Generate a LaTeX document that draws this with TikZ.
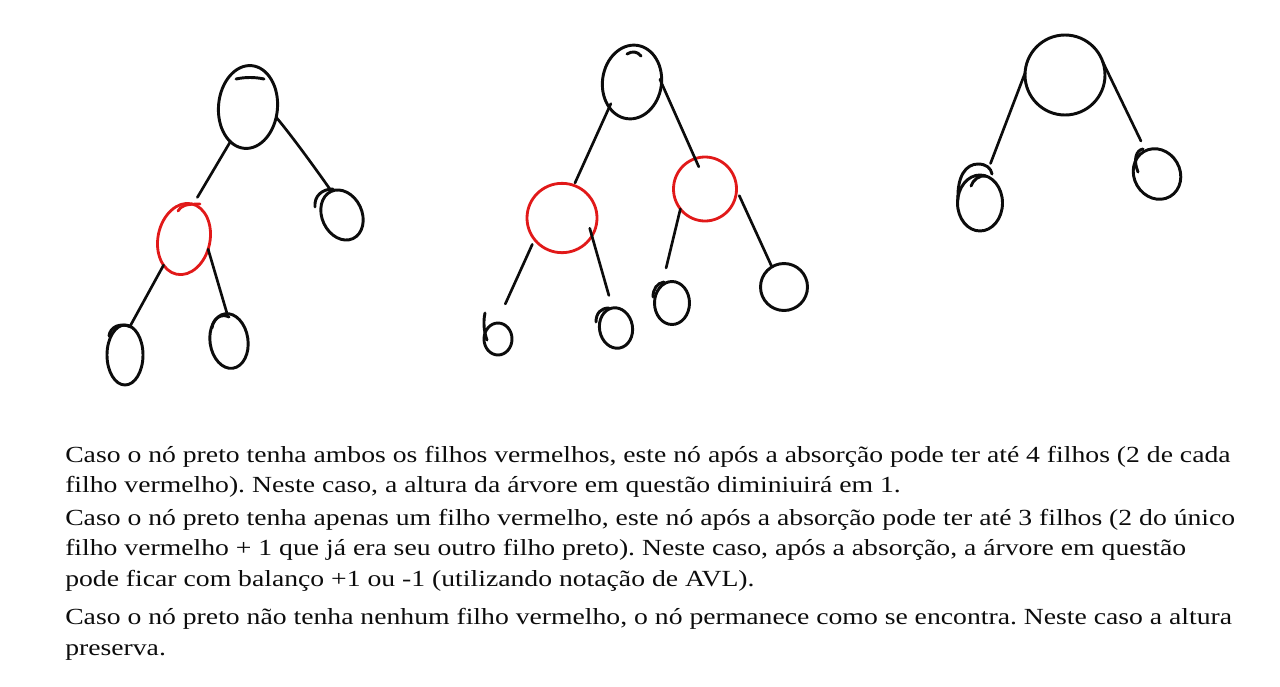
\documentclass[tikz,border=0pt]{standalone}
\usepackage{fontspec}
\setmainfont[FakeStretch=1.2]{Liberation Serif}
\usetikzlibrary{shapes.geometric}
\definecolor{ink}{RGB}{12,12,12}
\definecolor{inkred}{RGB}{225,25,25}
\frenchspacing
\begin{document}
\begin{tikzpicture}[x=0.75pt,y=-0.75pt, line cap=round, line join=round,
  bk/.style={draw=ink, line width=2.2pt, ellipse, inner sep=0pt, outer sep=0pt},
  rd/.style={draw=inkred, line width=2.1pt, ellipse, inner sep=0pt, outer sep=0pt},
  edge/.style={draw=ink, line width=2pt},
  hook/.style={draw=ink, line width=2.2pt},
  rhook/.style={draw=inkred, line width=2.1pt},
  txt/.style={anchor=base west, inner sep=0pt, text=ink, font=\fontsize{17.3}{20}\selectfont}]
\useasboundingbox (0,0) rectangle (1280,686);

% ---------- tree 1 ----------
\node[bk, minimum width=44.25pt, minimum height=62.25pt, rotate=-5] (r1) at (248,107) {};
\node[rd, minimum width=39pt, minimum height=54pt, rotate=-12] (red1) at (184,239) {};
\node[bk, minimum width=30pt, minimum height=39pt, rotate=25] (c1R) at (342,215) {};
\node[bk, minimum width=27pt, minimum height=45pt] (bl1) at (125,355) {};
\node[bk, minimum width=28.5pt, minimum height=41.25pt, rotate=8] (br1) at (229,341) {};
\draw[hook] (236,79) .. controls (245,77) and (255,77) .. (264,79);
\draw[rhook] (178,211) .. controls (181,206) and (185,204) .. (200,204);
\draw[hook] (315,207) .. controls (314,196) and (322,189) .. (333,189);
\draw[hook] (109,336) .. controls (110,327) and (120,322) .. (131,327);
\draw[hook] (212,328) .. controls (213,318) and (222,313) .. (229,317);
\draw[edge] (r1.248) -- (red1.87) [shorten >=6pt];
\draw[edge] (r1.-15) .. controls +(-50:20pt) and +(125:15pt) .. (c1R.89);
\draw[edge] (red1.244) -- (bl1.80);
\draw[edge] (red1.-11) -- (br1.86);

% ---------- tree 2 ----------
\node[bk, minimum width=44.25pt, minimum height=55.5pt, rotate=-8] (r2) at (632,82) {};
\node[rd, minimum width=52.5pt, minimum height=52pt] (lr2) at (562,218) {};
\node[rd, minimum width=47.25pt, minimum height=48pt] (rr2) at (705,189) {};
\node[bk, minimum width=21pt, minimum height=24pt] (a2) at (498,339) {};
\node[bk, minimum width=24.75pt, minimum height=30.5pt, rotate=10] (b2) at (616,328) {};
\node[bk, minimum width=26.25pt, minimum height=32.25pt] (c2) at (672,303) {};
\node[bk, minimum width=35.25pt, minimum height=35.25pt] (d2) at (784,287) {};
\draw[hook] (627,54) .. controls (632,51) and (637,51) .. (641,56);
\draw[hook] (485,313) .. controls (483,322) and (484,332) .. (487,340);
\draw[hook] (596,322) .. controls (596,313) and (601,308) .. (609,308);
\draw[hook] (653,297) .. controls (653,289) and (657,283) .. (664,282);
\draw[edge] (r2.236) -- (lr2.70) [shorten <=-3pt, shorten >=2pt];
\draw[edge] (r2.6) -- (rr2.108) [shorten <=-3pt, shorten >=-6.75pt];
\draw[edge] (lr2.218) -- (a2.95) [shorten <=4pt, shorten >=15.75pt];
\draw[edge] (lr2.-31) -- (b2.90) [shorten <=-6pt, shorten >=9.75pt];
\draw[edge] (rr2.219) -- (c2.120) [shorten >=13.5pt];
\draw[edge] (rr2.-1.5) -- (d2.121) [shorten <=5pt];

% ---------- tree 3 ----------
\node[bk, minimum width=60pt, minimum height=60pt] (r3) at (1065,75) {};
\node[bk, minimum width=33.75pt, minimum height=42pt] (lc3) at (980,203) {};
\node[bk, minimum width=34.5pt, minimum height=39pt, rotate=30] (rc3) at (1157,174) {};
\draw[hook] (958,200) .. controls (957,176) and (966,164) .. (978,164) .. controls (986,164) and (991,168) .. (992,174);
\draw[hook] (986,176) .. controls (979,175) and (973,180) .. (971,186);
\draw[hook] (1138,172) .. controls (1133,160) and (1136,150) .. (1143,149);
\draw[edge] (r3.177) -- (lc3.78) [shorten >=10pt];
\draw[edge] (r3.19) -- (rc3.86) [shorten >=8pt];

% ---------- text ----------
\node[txt] (t1) at (65,462) {Caso o nó preto tenha ambos os filhos vermelhos, este nó após a absorção pode ter até 4 filhos (2 de cada};
\node[txt] (t2) at (65,492) {filho vermelho). Neste caso, a altura da árvore em questão diminiuirá em 1.};
\node[txt] (t3) at (65,525) {Caso o nó preto tenha apenas um filho vermelho, este nó após a absorção pode ter até 3 filhos (2 do único};
\node[txt] (t4) at (65,555) {filho vermelho + 1 que já era seu outro filho preto). Neste caso, após a absorção, a árvore em questão};
\node[txt] (t5) at (65,586) {pode ficar com balanço +1 ou -1 (utilizando notação de AVL).};
\node[txt] (t6) at (65,624) {Caso o nó preto não tenha nenhum filho vermelho, o nó permanece como se encontra. Neste caso a altura};
\node[txt] (t7) at (65,655) {preserva.};
\end{tikzpicture}
\end{document}
